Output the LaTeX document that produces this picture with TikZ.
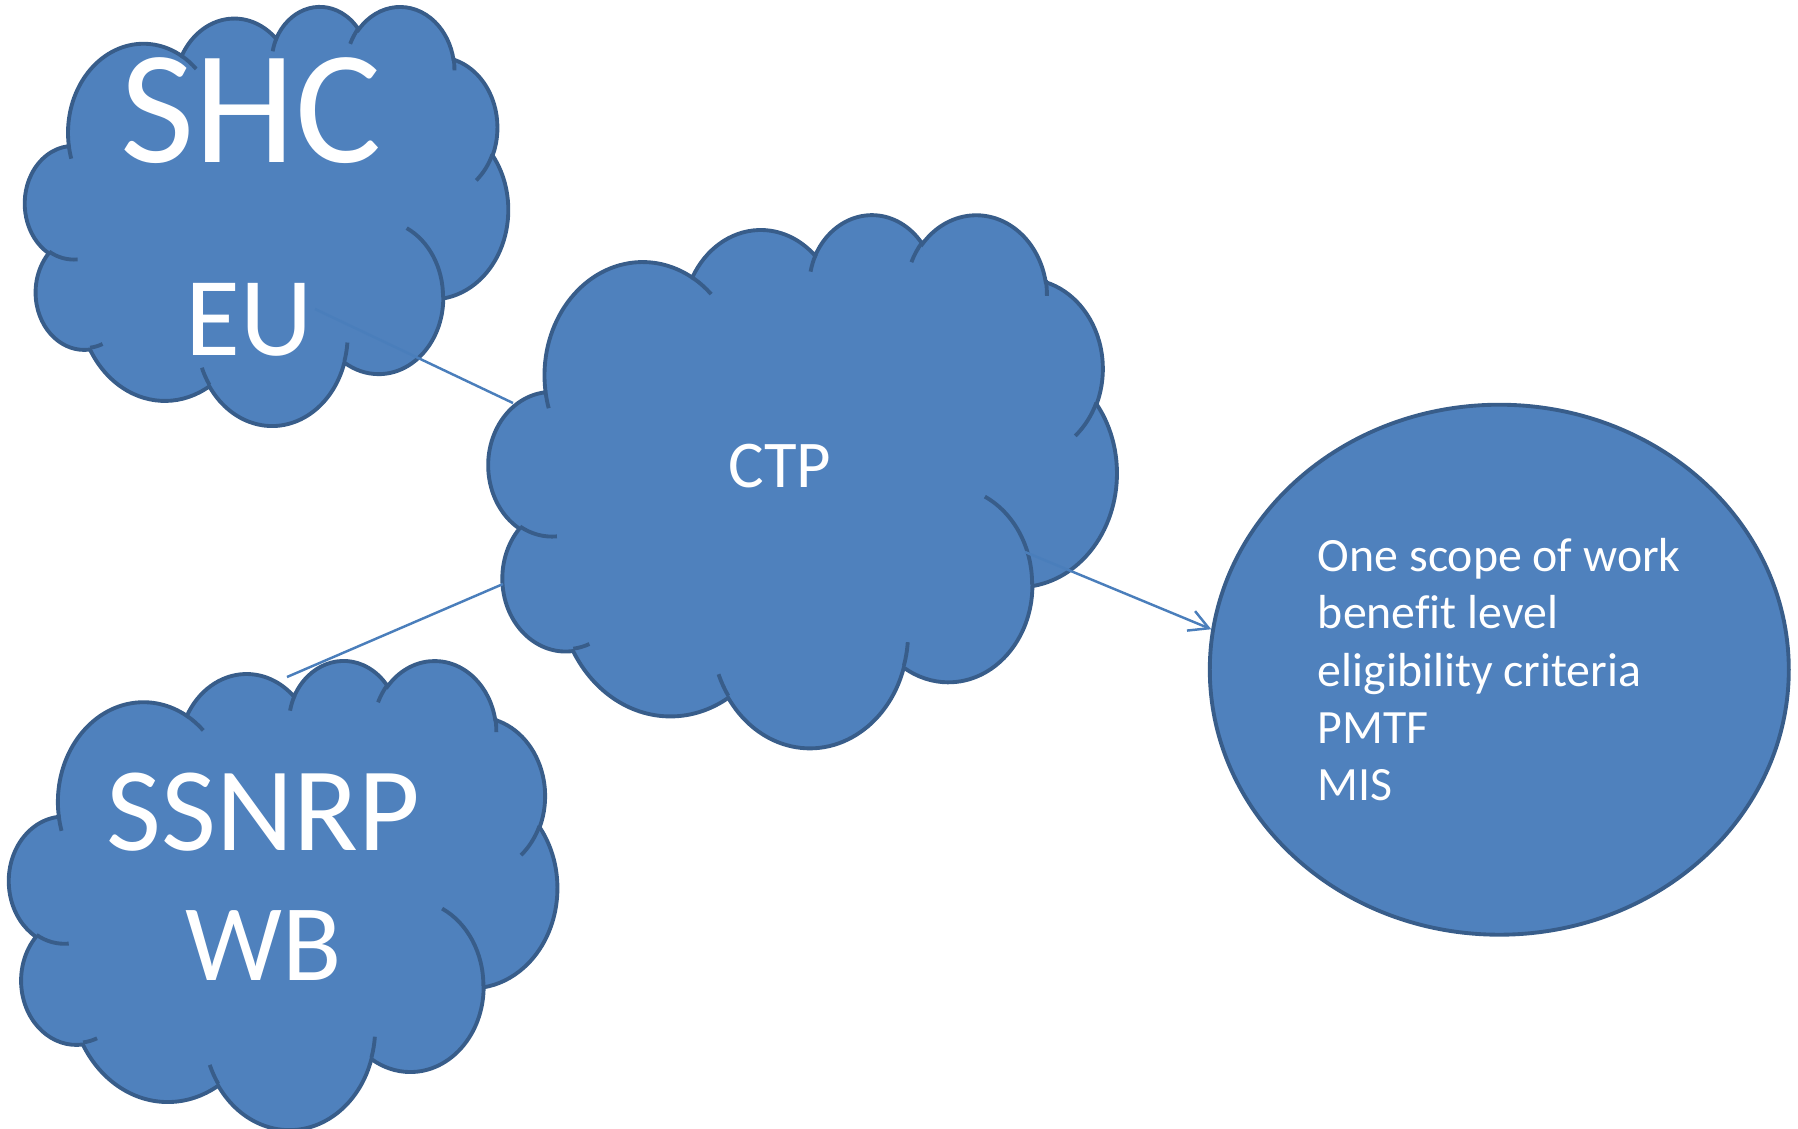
\documentclass[tikz,border=0pt]{standalone}
\usepackage{fontspec}
\setmainfont{Carlito}[Ligatures=CommonOff]
\usepackage{tikz}
\usetikzlibrary{arrows.meta, shapes.geometric, positioning}

\definecolor{cloudfill}{HTML}{4F81BD}
\definecolor{cloudline}{HTML}{385D8A}
\definecolor{linkblue}{HTML}{4A7EBB}

\tikzset{
  cloudbox/.style={inner sep=0pt, outer sep=0pt},
  cloudskin/.style={fill=cloudfill, draw=cloudline, line width=1.1pt},
  puffline/.style={draw=cloudline, line width=1.1pt},
  cloudtext/.style={text=white, anchor=base, inner sep=0pt},
  link/.style={draw=linkblue, line width=0.7pt},
  % one bump of the cloud outline: x radius, y radius, start, sweep
  puff/.style n args={4}{insert path={arc[x radius=#1, y radius=#2,
      start angle={atan2(#1*sin(#3),#2*cos(#3))},
      delta angle={mod(atan2(#1*sin(#3+#4),#2*cos(#3+#4))-atan2(#1*sin(#3),#2*cos(#3))+720,360)}]}},
}

% cloud outline fitted to the box of node #1, #2 x #3 cm
\newcommand\officecloud[3]{%
  \begin{scope}[shift={(#1.north west)}, x={(#2cm/43.2,0cm)}, y={(0cm,-#3cm/43.2)}]
    \path[cloudskin] (3.9,14.37)
      [puff={6.753}{9.19}{-190.487}{123.781}]
      [puff={5.333}{7.267}{-144.102}{89.945}]
      [puff={4.365}{5.945}{-145.808}{99.723}]
      [puff={4.857}{6.595}{-130.986}{117.242}]
      [puff={5.333}{7.273}{-78.709}{109.027}]
      [puff={6.775}{9.22}{-46.267}{130.269}]
      [puff={5.785}{7.867}{0.625}{114.033}]
      [puff={6.752}{9.215}{22.452}{115.173}]
      [puff={7.72}{10.543}{66.243}{75.711}]
      [puff={4.36}{5.918}{-274.942}{146.736}]
      [puff={4.345}{5.945}{-246.829}{152.519}] -- cycle;
    \path[puffline]
      (4.693,26.177) [puff={4.345}{5.945}{86.742}{26.43}]
      (6.928,34.899) [puff={4.36}{5.918}{73.61}{11.447}]
      (16.478,39.09) [puff={6.752}{9.215}{137.624}{14.081}]
      (28.827,34.751) [puff={6.752}{9.215}{6.453}{15.998}]
      (34.129,22.954) [puff={5.785}{7.867}{-70.292}{70.917}]
      (41.798,15.354) [puff={5.333}{7.273}{30.318}{27.752}]
      (38.324,5.426) [puff={4.857}{6.595}{-13.744}{14.859}]
      (29.078,3.952) [puff={4.857}{6.595}{-149.181}{18.195}]
      (22.141,4.72) [puff={4.365}{5.945}{-163.494}{17.686}]
      (14,5.192) [puff={6.753}{9.19}{-66.707}{12.319}]
      (4.127,15.789) [puff={6.753}{9.19}{157.654}{11.858}];
  \end{scope}}

\begin{document}
\begin{tikzpicture}
  \useasboundingbox (0,0) rectangle (17.98,-11.28);

  % cloud frames
  \node[cloudbox, minimum width=4.83cm, minimum height=4.19cm] (shc) at (2.666,-2.15) {};
  \node[cloudbox, minimum width=5.48cm, minimum height=4.69cm] (ssnrp) at (2.832,-8.939) {};
  \node[cloudbox, minimum width=6.28cm, minimum height=5.33cm] (ctp) at (8.027,-4.799) {};
  \officecloud{shc}{4.83}{4.19}
  \officecloud{ssnrp}{5.48}{4.69}
  \officecloud{ctp}{6.28}{5.33}

  % ellipse with the work items
  \node[ellipse, fill=cloudfill, draw=cloudline, line width=1.1pt,
        minimum width=5.79cm, minimum height=5.30cm, inner sep=0pt,
        text=white, align=left, font=\fontsize{13.6}{16.3}\selectfont]
        (tasks) at (14.993,-6.697)
        {One scope of work\\benefit level\\eligibility criteria\\PMTF\\MIS};

  % labels
  \node[cloudtext, font=\fontsize{46}{55}\selectfont] (shclabel) at (2.51,-1.628) {SHC};
  \node[cloudtext, font=\fontsize{32}{38}\selectfont] (eulabel) at (2.494,-3.555) {EU};
  \node[cloudtext, font=\fontsize{34}{41}\selectfont] (ssnrplabel) at (2.632,-8.508) {SSNRP};
  \node[cloudtext, font=\fontsize{31}{37}\selectfont] (wblabel) at (2.637,-9.804) {WB};
  \node[cloudtext, font=\fontsize{19}{23}\selectfont] (ctplabel) at (7.798,-4.873) {CTP};

  % connectors
  \coordinate (shcend) at (3.15,-3.09);
  \coordinate (ctpnw) at (5.13,-4.03);
  \coordinate (ctpsw) at (5.03,-5.84);
  \coordinate (ssnrpend) at (2.87,-6.77);
  \coordinate (ctpout) at (10.25,-5.52);
  \draw[link] (shcend) -- (ctpnw);
  \draw[link] (ctpsw) -- (ssnrpend);
  \draw[link, -{Straight Barb[length=5.5pt, width=6pt]}] (ctpout) -- (tasks.172);
\end{tikzpicture}
\end{document}
